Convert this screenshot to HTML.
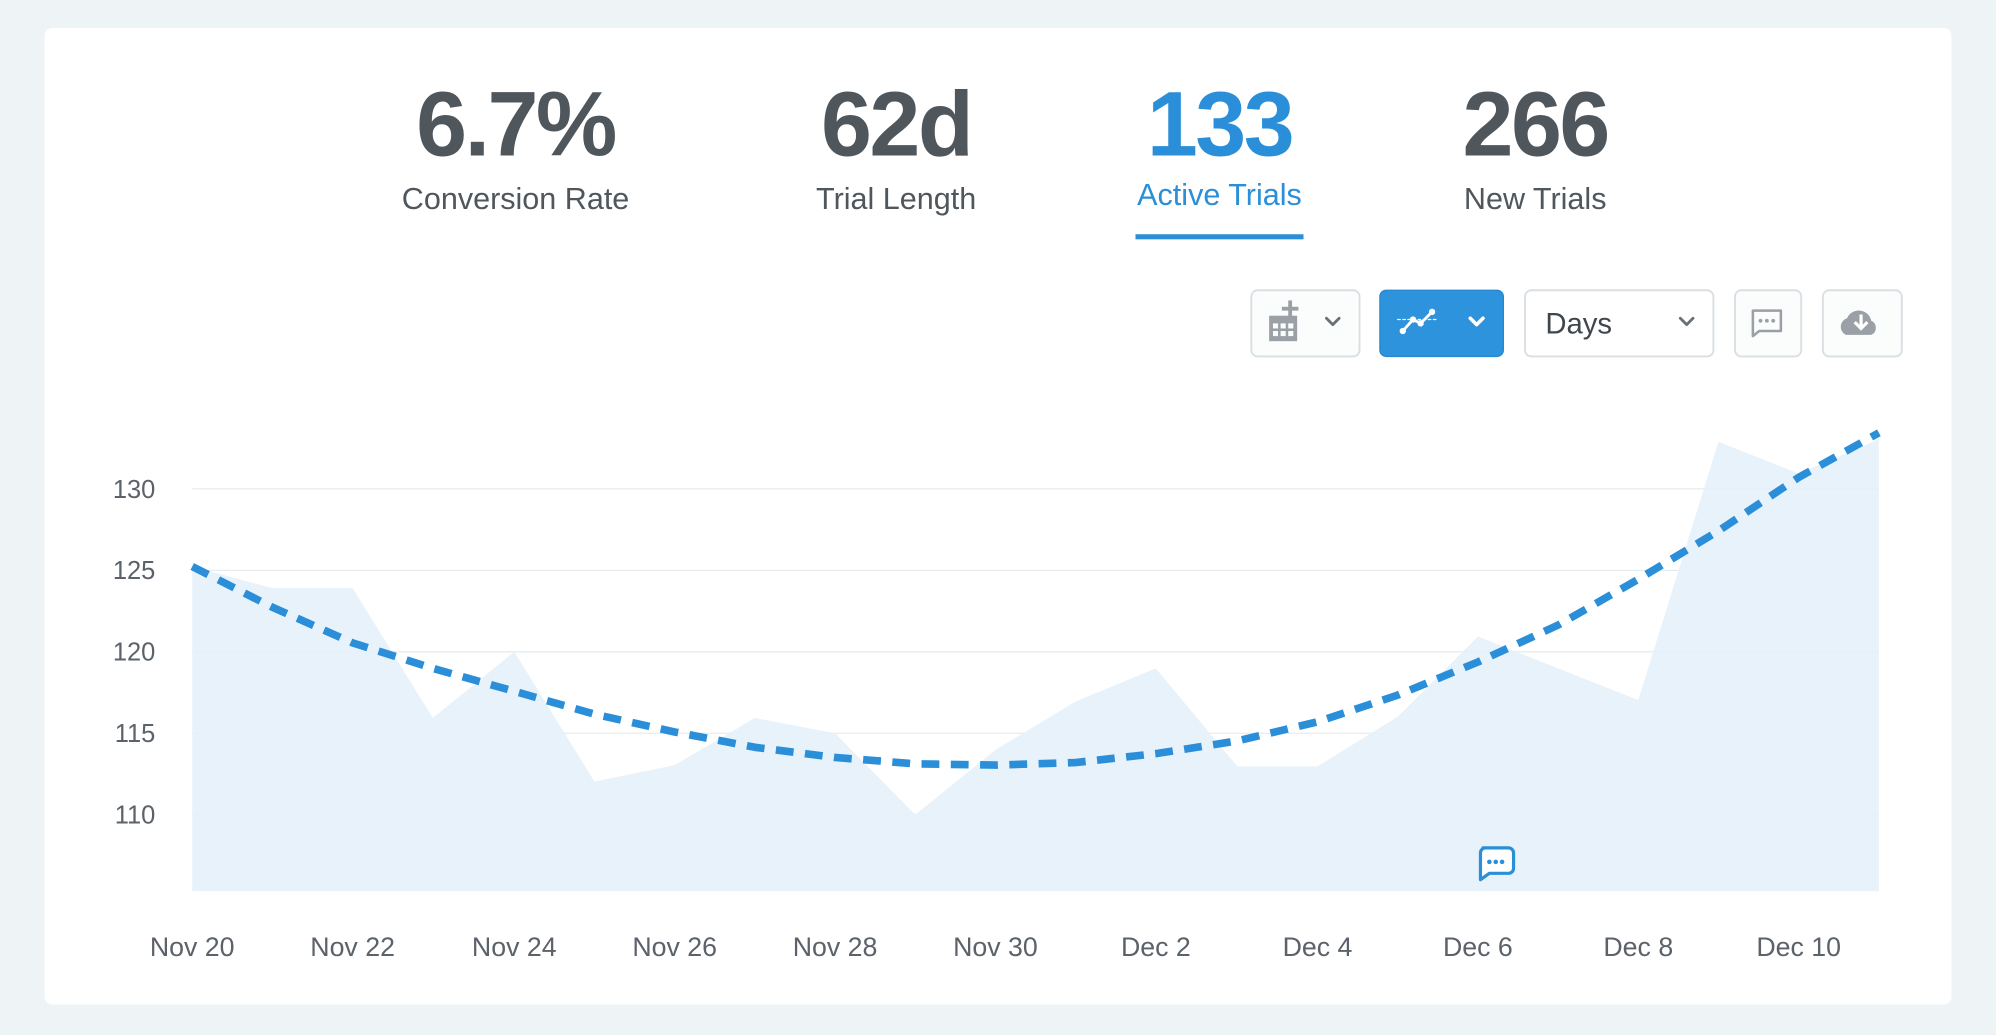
<!DOCTYPE html>
<html><head><meta charset="utf-8"><style>
html,body{margin:0;padding:0;background:#eef3f6;}
svg{display:block;}
text{font-family:"Liberation Sans",sans-serif;}
</style></head><body>
<svg width="1996" height="1035" viewBox="0 0 1568 813" preserveAspectRatio="none" xmlns="http://www.w3.org/2000/svg">
<rect x="0" y="0" width="1568" height="813" fill="#eef3f6"/>
<rect x="35" y="22" width="1498" height="767" rx="6" fill="#fff"/>
<g text-anchor="middle" fill="#4f565c">
<text x="405" y="122" font-size="72" font-weight="bold" letter-spacing="-2">6.7%</text>
<text x="405" y="164" font-size="24">Conversion Rate</text>
<text x="704" y="122" font-size="72" font-weight="bold" letter-spacing="-2">62d</text>
<text x="704" y="164" font-size="24">Trial Length</text>
<text x="958" y="122" font-size="72" font-weight="bold" letter-spacing="-2" fill="#2a8fd8">133</text>
<text x="958" y="161" font-size="24" fill="#2a8fd8">Active Trials</text>
<text x="1206" y="122" font-size="72" font-weight="bold" letter-spacing="-2">266</text>
<text x="1206" y="164" font-size="24">New Trials</text>
</g>
<rect x="892" y="184" width="132" height="4" fill="#2a8fd8"/>
<g stroke="#d9dfe3" stroke-width="1.5" fill="#fbfcfc">
<rect x="983" y="228" width="85" height="52" rx="5"/>
<rect x="1198" y="228" width="148" height="52" rx="5" fill="#fff"/>
<rect x="1363" y="228" width="52" height="52" rx="5"/>
<rect x="1432" y="228" width="62" height="52" rx="5"/>
</g>
<rect x="1084" y="228" width="97" height="52" rx="5" fill="#2d93dc" stroke="#2488d0"/>
<g fill="#9aa0a5">
<rect x="997" y="248" width="22" height="20"/>
<rect x="1012" y="236" width="3" height="14"/><rect x="1007" y="241" width="13" height="3"/>
</g>
<g fill="#fbfcfc"><rect x="1000" y="254" width="4" height="4"/><rect x="1006" y="254" width="4" height="4"/><rect x="1012" y="254" width="4" height="4"/><rect x="1000" y="260" width="4" height="4"/><rect x="1006" y="260" width="4" height="4"/><rect x="1012" y="260" width="4" height="4"/></g>
<g fill="none" stroke-width="2.2" stroke-linecap="round" stroke-linejoin="round">
<path d="M1042 250 l5 5 l5 -5" stroke="#6a7075"/>
<path d="M1155 250 l5 5 l5 -5" stroke="#fff" stroke-width="2.8"/>
<path d="M1320 250 l5 5 l5 -5" stroke="#6a7075"/>
<path d="M1102 260 l8 -9 l6 3 l9 -9" stroke="#fff"/>
<path d="M1098 251 h32" stroke="#fff" stroke-width="1" stroke-dasharray="2 2"/>
<path d="M1377 244 h22 v16 h-17 l-5 4 z" stroke="#9aa0a5" stroke-width="2"/>
</g>
<g fill="#fff"><circle cx="1102" cy="260" r="2.5"/><circle cx="1110" cy="251" r="2.5"/><circle cx="1116" cy="254" r="2.5"/><circle cx="1125" cy="245" r="2.5"/></g>
<g fill="#9aa0a5"><circle cx="1383" cy="252" r="1.5"/><circle cx="1388" cy="252" r="1.5"/><circle cx="1393" cy="252" r="1.5"/>
<path d="M1450 263 a7 7 0 0 1 1 -13 a10 10 0 0 1 19 2 a6 6 0 0 1 0 11 z"/></g>
<path d="M1462 247 v10 M1457 253 l5 5 l5 -5" stroke="#fff" stroke-width="2.5" fill="none"/>
<text x="1214" y="262" font-size="23" fill="#3f464d">Days</text>
<g stroke="#e6ecef" stroke-width="1">
<line x1="151" x2="1476" y1="384" y2="384"/><line x1="151" x2="1476" y1="448" y2="448"/>
<line x1="151" x2="1476" y1="512" y2="512"/><line x1="151" x2="1476" y1="576" y2="576"/>
<line x1="151" x2="1476" y1="640" y2="640"/>
</g>
<path d="M151 445 L214 462 L277 462 L340 564 L404 512 L467 614 L530 601 L593 564 L656 576 L719 640 L782 589 L845 551 L908 525 L972 602 L1035 602 L1098 563 L1161 500 L1224 525 L1287 550 L1350 347 L1413 372 L1476 345 L1476 700 L151 700 Z" fill="#e6f1fa" fill-opacity="0.9"/>
<path d="M151 445 L214 477 L277 505 L340 525 L404 543 L467 561 L530 575 L593 587 L656 595 L719 600 L782 601 L845 599 L908 592 L972 582 L1035 567 L1098 546 L1161 520 L1224 491 L1287 455 L1350 417 L1413 375 L1476 340" fill="none" stroke="#2a8fd8" stroke-width="6" stroke-dasharray="14 9" stroke-linejoin="round"/>
<g font-size="20" fill="#5b6269" text-anchor="end">
<text x="122" y="391">130</text><text x="122" y="455">125</text><text x="122" y="519">120</text><text x="122" y="583">115</text><text x="122" y="647">110</text>
</g>
<g font-size="21" fill="#5b6269" text-anchor="middle">
<text x="151" y="751">Nov 20</text><text x="277" y="751">Nov 22</text><text x="404" y="751">Nov 24</text><text x="530" y="751">Nov 26</text><text x="656" y="751">Nov 28</text><text x="782" y="751">Nov 30</text><text x="908" y="751">Dec 2</text><text x="1035" y="751">Dec 4</text><text x="1161" y="751">Dec 6</text><text x="1287" y="751">Dec 8</text><text x="1413" y="751">Dec 10</text>
</g>
<path d="M1165 666 h20 a4 4 0 0 1 4 4 v12 a4 4 0 0 1 -4 4 h-15 l-7 5 v-21 a4 4 0 0 1 4 -4 z" fill="#fff" stroke="#2a8fd8" stroke-width="2.5" stroke-linejoin="round"/>
<g fill="#2a8fd8"><circle cx="1170" cy="677" r="1.8"/><circle cx="1175" cy="677" r="1.8"/><circle cx="1180" cy="677" r="1.8"/></g>
</svg>
</body></html>
